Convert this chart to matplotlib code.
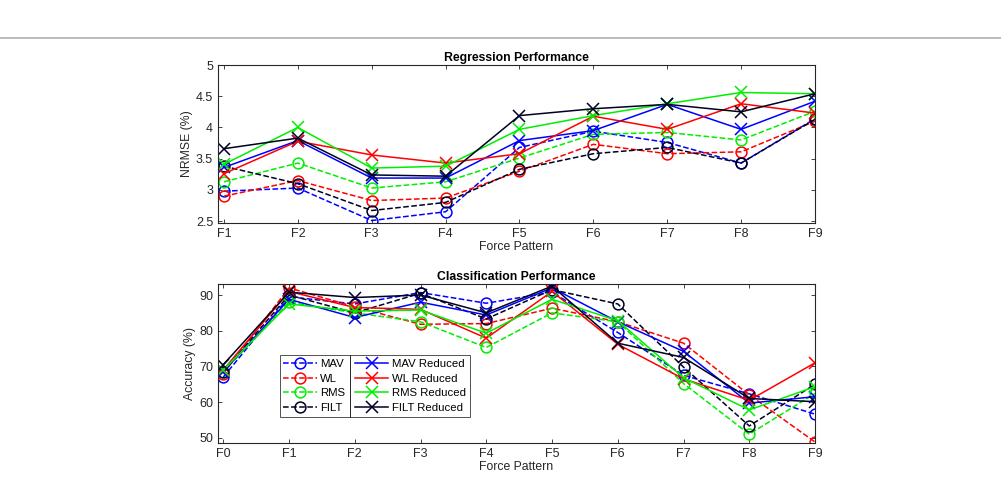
import numpy as np
import matplotlib
matplotlib.use('Agg')
import matplotlib.pyplot as plt
from matplotlib.lines import Line2D

plt.rcParams['font.family'] = ['Liberation Sans', 'DejaVu Sans']

# regression (NRMSE %) for F1..F9
reg_labels = ['F1', 'F2', 'F3', 'F4', 'F5', 'F6', 'F7', 'F8', 'F9']
reg_mav = [2.98, 3.03, 2.51, 2.65, 3.68, 3.94, 3.76, 3.43, 4.14]
reg_wl = [2.90, 3.15, 2.83, 2.87, 3.30, 3.73, 3.58, 3.61, 4.10]
reg_rms = [3.13, 3.43, 3.03, 3.13, 3.51, 3.89, 3.92, 3.80, 4.26]
reg_filt = [3.38, 3.10, 2.67, 2.80, 3.33, 3.58, 3.68, 3.43, 4.13]
reg_mav_red = [3.36, 3.79, 3.19, 3.19, 3.79, 3.95, 4.37, 3.97, 4.42]
reg_wl_red = [3.26, 3.78, 3.56, 3.43, 3.58, 4.18, 3.97, 4.38, 4.23]
reg_rms_red = [3.41, 4.00, 3.35, 3.38, 3.97, 4.19, 4.38, 4.56, 4.54]
reg_filt_red = [3.66, 3.83, 3.24, 3.22, 4.19, 4.30, 4.37, 4.25, 4.54]

# classification (accuracy %) for F0..F9
cls_labels = ['F0', 'F1', 'F2', 'F3', 'F4', 'F5', 'F6', 'F7', 'F8', 'F9']
cls_mav = [67.0, 89.5, 87.5, 90.7, 87.7, 90.8, 79.5, 67.5, 62.3, 56.6]
cls_wl = [68.0, 92.0, 86.7, 81.8, 82.0, 86.3, 82.5, 76.5, 62.0, 48.8]
cls_rms = [68.5, 88.0, 85.0, 82.5, 75.3, 85.0, 82.5, 65.2, 51.0, 62.4]
cls_filt = [68.5, 90.0, 85.0, 90.5, 83.3, 91.5, 87.5, 69.8, 53.3, 65.0]
cls_mav_red = [68.5, 88.8, 83.7, 88.0, 84.4, 92.0, 82.5, 74.2, 59.7, 61.5]
cls_wl_red = [69.0, 91.0, 86.5, 86.0, 77.9, 91.0, 76.2, 66.5, 60.5, 71.0]
cls_rms_red = [69.0, 87.5, 85.5, 85.8, 79.3, 88.8, 82.8, 66.8, 57.8, 64.3]
cls_filt_red = [70.5, 90.8, 89.3, 90.0, 85.0, 92.5, 76.5, 72.5, 61.0, 60.1]

names = ['MAV', 'WL', 'RMS', 'FILT']
colors = ['#0000ff', '#ff0000', '#00ee00', '#000022']


def draw_panel(ax, labels, full, reduced):
    x = np.arange(len(labels))
    handles = []
    for vals, c, n in zip(full, colors, names):
        h, = ax.plot(x, vals, '--o', color=c, lw=1.1, ms=7.8, mfc='none', mew=1.1, label=n)
        handles.append(h)
    for vals, c, n in zip(reduced, colors, names):
        h, = ax.plot(x, vals, '-x', color=c, lw=1.1, ms=8.5, mew=1.1, label=n + ' Reduced')
        handles.append(h)
    ax.set_xticks(x)
    ax.set_xticklabels(labels)
    ax.set_xlim(-0.08, len(labels) - 1)
    ax.tick_params(direction='in', top=True, right=True, labelsize=9, length=3, width=0.6, colors='#262626')
    for s in ax.spines.values():
        s.set_linewidth(0.8)
        s.set_color('#262626')
    ax.set_xlabel('Force Pattern', fontsize=8.8, color='#262626', labelpad=1)
    return handles


fig = plt.figure(figsize=(10.01, 4.82), dpi=100)

# grey separator line at the top of the figure window
fig.add_artist(Line2D([0, 1], [1 - 37.5 / 482] * 2, color='#b0b0b0', lw=1.2))

ax1 = fig.add_axes([0.2178, 0.5373, 0.5964, 0.3278])
draw_panel(ax1, reg_labels,
           [reg_mav, reg_wl, reg_rms, reg_filt],
           [reg_mav_red, reg_wl_red, reg_rms_red, reg_filt_red])
ax1.set_ylim(2.47, 5)
ax1.set_yticks([2.5, 3, 3.5, 4, 4.5, 5])
ax1.set_yticklabels(['2.5', '3', '3.5', '4', '4.5', '5'])
ax1.set_ylabel('NRMSE (%)', fontsize=8.8, color='#262626', labelpad=2)
ax1.set_title('Regression Performance', fontsize=8.8, fontweight='bold', pad=3)

ax2 = fig.add_axes([0.2178, 0.0815, 0.5964, 0.3286])
handles = draw_panel(ax2, cls_labels,
                     [cls_mav, cls_wl, cls_rms, cls_filt],
                     [cls_mav_red, cls_wl_red, cls_rms_red, cls_filt_red])
ax2.set_ylim(48.6, 93)
ax2.set_yticks([50, 60, 70, 80, 90])
ax2.set_ylabel('Accuracy (%)', fontsize=8.8, color='#262626', labelpad=2)
ax2.set_title('Classification Performance', fontsize=8.8, fontweight='bold', pad=3)

leg = ax2.legend(handles=handles, ncol=2, fontsize=8.2, loc='upper left',
                 bbox_to_anchor=(0.103, 0.555), frameon=True, fancybox=False,
                 edgecolor='#262626', borderpad=0.35, labelspacing=0.42,
                 handlelength=2.9, handletextpad=0.3, columnspacing=0.9,
                 borderaxespad=0)
leg.get_frame().set_linewidth(0.7)

# vertical divider between the two legend columns
fig.canvas.draw()
frame = leg.get_frame().get_window_extent()
txt = leg.get_texts()
col1_right = max(t.get_window_extent().x1 for t in txt[:4])
gap = 0.9 * 8.2 * 100 / 72
xdiv = (col1_right + gap / 2) / fig.bbox.width
fig.add_artist(Line2D([xdiv, xdiv], [frame.y0 / fig.bbox.height, frame.y1 / fig.bbox.height],
                      color='#262626', lw=0.7))

fig.savefig('out.png', dpi=100)
